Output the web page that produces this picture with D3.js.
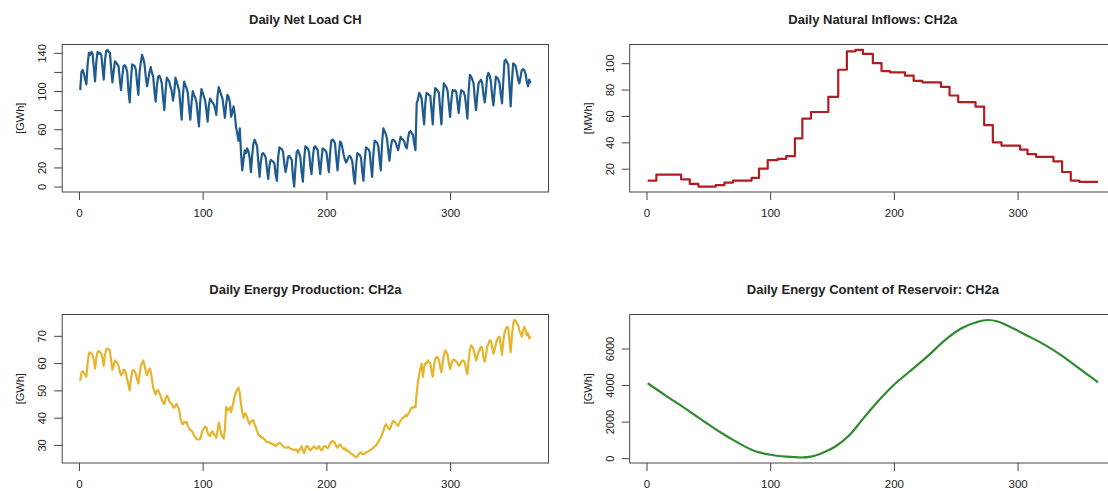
<!DOCTYPE html>
<html>
<head>
<meta charset="utf-8">
<script src="https://cdn.jsdelivr.net/npm/d3@7"></script>
<style>
  body { margin: 0; background: #fff; }
  svg text { font-family: "Liberation Sans", Arial, sans-serif; fill: #222; }
</style>
</head>
<body>
<svg id="chart"></svg>
<script>
// daily net load, GWh (day 1 .. 365)
const netLoad = [
  101, 120, 122, 118, 112, 107,
  128, 140, 138, 141, 139, 124, 110,
  130, 141, 139, 140, 138, 125, 112,
  132, 142, 143, 141, 140, 124, 109,
  120, 131, 130, 128, 126, 112, 101,
  115, 126, 127, 125, 120, 100, 88,
  112, 128, 127, 126, 122, 108, 96,
  120, 130, 138, 134, 128, 115, 105,
  112, 120, 125, 119, 115, 100, 89,
  105, 115, 116, 113, 108, 92, 80,
  100, 114, 112, 110, 104, 100, 90,
  98, 114, 110, 105, 100, 85, 70,
  95, 110, 106, 103, 98, 82, 70,
  88, 100, 96, 93, 88, 75, 63,
  88, 102, 98, 94, 90, 80, 68,
  85, 92, 90, 88, 86, 82, 75,
  95, 104, 100, 96, 92, 82, 72,
  86, 96, 94, 88, 73, 78, 84,
  75, 62, 55, 48, 61, 35, 17,
  28, 38, 35, 40, 37, 30, 15,
  32, 45, 49, 46, 42, 25, 10,
  26, 34, 35, 33, 30, 18, 8,
  22, 28, 27, 26, 24, 12, 6,
  30, 41, 40, 39, 36, 24, 15,
  22, 31, 32, 30, 28, 10, 0,
  20, 36, 38, 35, 30, 15, 5,
  28, 42, 41, 40, 36, 22, 13,
  30, 41, 42, 40, 38, 25, 13,
  28, 40, 39, 38, 36, 26, 15,
  35, 48, 49, 48, 45, 30, 17,
  32, 47, 46, 40, 33, 28, 25,
  28, 31, 32, 30, 26, 12, 3,
  22, 35, 34, 33, 30, 16, 6,
  28, 41, 40, 39, 36, 22, 10,
  34, 48, 47, 46, 42, 28, 17,
  45, 61, 58, 55, 50, 38, 27,
  40, 48, 49, 48, 46, 42, 38,
  45, 52, 50, 49, 47, 42, 40,
  50, 57, 58, 56, 54, 45, 38,
  87, 91, 98, 96, 92, 78, 65,
  88, 98, 97, 96, 95, 80, 65,
  90, 103, 102, 100, 98, 80, 65,
  92, 108, 106, 104, 100, 86, 73,
  90, 101, 100, 101, 99, 88, 77,
  92, 101, 100, 99, 95, 84, 71,
  100, 117, 115, 112, 108, 92, 80,
  95, 108, 110, 112, 108, 96, 88,
  100, 115, 119, 116, 110, 95, 85,
  100, 115, 114, 112, 108, 96, 87,
  110, 131, 133, 130, 128, 105, 84,
  110, 129, 128, 126, 120, 112, 108,
  115, 122, 123, 122, 118, 110, 105,
  112, 108
];

// natural inflows, MWh: day where a new level starts, and that level
const inflowDays = [1, 8, 28, 35, 42, 56, 63, 70, 85, 91, 98, 106, 113, 120, 126, 133, 147, 155, 162, 169, 175, 183, 190, 197, 209, 216, 223, 238, 245, 252, 266, 273, 280, 287, 302, 308, 315, 329, 336, 343, 350, 365];
const inflowLevels = [11, 15.5, 12, 8.5, 6.5, 7.5, 9.5, 11, 13, 20, 26.5, 27.5, 29.5, 43, 58, 63, 74.5, 95, 109, 110, 107, 100, 94, 93, 90.5, 86.5, 85.5, 82, 75.5, 70.5, 67, 53, 40, 37.5, 34.5, 31, 29, 25.5, 17.5, 11, 10, 10];

// daily energy production, GWh
const production = [
  53.5, 56.5, 57, 56.5, 55.5, 55,
  60, 63.5, 64, 63.5, 63, 61, 58,
  62, 64, 64.5, 64, 63.5, 62, 59,
  63, 65, 65.3, 65, 64.5, 61, 57.5,
  59, 61, 60.5, 60, 59, 57, 55.5,
  56, 57.5, 57.5, 56, 54, 52, 50,
  54, 57, 57.5, 57, 56, 54, 52.5,
  56, 59, 60, 61, 59, 57, 55.5,
  57, 58, 57, 54, 51, 49.5, 48.5,
  50, 50, 49, 48, 46.5, 45.5, 45,
  47, 48, 47.5, 46, 45.5, 45, 44,
  43.6, 44.5, 45, 44, 43, 40, 38,
  37.6, 38.5, 38.2, 38.5, 37, 36, 35.5,
  35.2, 34.5, 33.5, 33, 32.2, 32, 32,
  32.2, 34, 35.5, 36, 36.7, 36.5, 34.5,
  33.5, 33.3, 34.5, 35, 34, 33.5, 32.7,
  35, 38.2, 36.5, 34, 33, 32.3, 36,
  44, 42.6, 43, 43.8, 42, 44, 46,
  48, 49.5, 50.5, 51, 49, 45, 42,
  40, 41.5, 41.3, 40, 38.5, 37.6, 38.5,
  39, 39, 37.5, 36.4, 35, 34, 33.3,
  33, 32.7, 32.5, 32, 31.5, 31, 30.9,
  31, 30.5, 30.6, 30.2, 30, 29.5, 30,
  30.5, 30.8, 30.5, 30, 29.5, 29.2, 29,
  29, 29.3, 29, 28.6, 28.5, 28.3, 28,
  28.4, 28.2, 27.2, 28, 28.6, 29.5, 28,
  27, 28.5, 29.6, 29.5, 28.6, 28, 28.5,
  29, 29.5, 29, 28.5, 29, 29.6, 28.6,
  28, 28.5, 29.5, 29.6, 29.2, 28.8, 29.5,
  30.5, 31, 31.5, 31.2, 30.5, 29.5, 29,
  29.8, 30.2, 29.6, 29, 28.5, 28.8, 28,
  28, 27.6, 27.2, 26.8, 26.6, 26.2, 25.8,
  25.4, 25.8, 26.5, 27, 27.3, 26.8, 26.6,
  26.8, 27.2, 27.5, 27.6, 28, 28.3, 28.5,
  29, 29.5, 29.7, 30.5, 31, 32, 32.7,
  34, 35, 36.5, 37.6, 37, 36.2, 35.7,
  36.5, 38, 38.8, 38.5, 38, 37.5, 37,
  38, 39, 39.5, 40, 40.2, 41, 40.5,
  41.3, 42, 43, 43.8, 43.6, 44, 43.8,
  49, 53, 56, 58, 59.8, 55, 58.5,
  60, 59.8, 61, 60.5, 60, 57, 55,
  59, 61.5, 62.2, 62, 61, 58.5, 56.6,
  60, 63, 64.7, 64, 63, 60, 57.8,
  59.5, 61, 61.4, 61, 60.5, 60, 59,
  59.5, 60.5, 61, 60.8, 60, 57.5, 56,
  61, 65, 66.5, 66, 65, 63, 61,
  62.5, 64, 65, 66, 65.5, 62, 60.5,
  63, 66, 67, 68.4, 68, 66, 63.5,
  65, 67, 68.5, 69.5, 69.7, 66, 63,
  68, 71, 72.5, 73.3, 73, 68, 64,
  70, 74.5, 75.8, 75.5, 74.5, 74, 72,
  71, 69.7, 72, 73.3, 72, 70.2, 71,
  69, 70
];

// reservoir energy content, GWh (read at these days)
const reservoirDays = [1, 15, 30, 45, 60, 71, 88, 99, 113, 125, 133, 144, 153, 164, 175, 187, 199, 212, 226, 243, 254, 266, 276, 284, 295, 308, 322, 336, 350, 365];
const reservoirValues = [4100, 3450, 2780, 2080, 1400, 960, 380, 200, 80, 35, 80, 330, 650, 1250, 2150, 3100, 3950, 4700, 5500, 6550, 7080, 7420, 7560, 7480, 7150, 6700, 6200, 5600, 4900, 4150];

const xTicks = [0, 100, 200, 300];
const days = d3.range(1, 366);

const svg = d3.select("#chart").attr("width", 1108).attr("height", 491);
svg.append("rect").attr("width", 1108).attr("height", 491).attr("fill", "#fff");

// R-style axis range: data range plus 4% on each side
function rRange(ext) {
  var pad = (ext[1] - ext[0]) * 0.04;
  return [ext[0] - pad, ext[1] + pad];
}

function drawPanel(p) {
  const g = svg.append("g");
  const x = d3.scaleLinear().domain(rRange([1, 365])).range([p.left, p.right]);
  const y = d3.scaleLinear().domain(rRange(d3.extent(p.points, (d) => d[1]))).range([p.bottom, p.top]);

  // x axis
  g.append("g")
    .attr("transform", `translate(0, ${p.bottom})`)
    .call(d3.axisBottom(x).tickValues(xTicks).tickSize(8).tickSizeOuter(0).tickPadding(9))
    .call((a) => a.select(".domain").remove())
    .call((a) => a.selectAll("line").attr("stroke", "#444"))
    .call((a) => a.selectAll("text").attr("font-size", "11.5px").attr("fill", "#222"));

  // y axis, labels turned like R does
  g.append("g")
    .attr("transform", `translate(${p.left}, 0)`)
    .call(d3.axisLeft(y).tickValues(p.yTicks).tickSize(8).tickSizeOuter(0)
      .tickFormat((d) => (p.yLabels.indexOf(d) >= 0 ? d : "")))
    .call((a) => a.select(".domain").remove())
    .call((a) => a.selectAll("line").attr("stroke", "#444"))
    .call((a) => a.selectAll("text")
      .attr("x", null).attr("dy", null)
      .attr("text-anchor", "middle")
      .attr("transform", "translate(-16, 0) rotate(-90)")
      .attr("font-size", "11px").attr("fill", "#222"));

  // box
  g.append("rect")
    .attr("x", p.left).attr("y", p.top)
    .attr("width", p.right - p.left).attr("height", p.bottom - p.top)
    .attr("fill", "none").attr("stroke", "#444").attr("stroke-width", 1);

  // series
  const line = d3.line()
    .x((d) => x(d[0]))
    .y((d) => y(d[1]))
    .curve(p.curve || d3.curveLinear);
  g.append("path")
    .datum(p.points)
    .attr("d", line)
    .attr("fill", "none")
    .attr("stroke", p.color)
    .attr("stroke-width", 2.2)
    .attr("stroke-linejoin", "round");

  // title and y label
  g.append("text")
    .attr("x", (p.left + p.right) / 2)
    .attr("y", p.top - 21)
    .attr("text-anchor", "middle")
    .attr("font-size", "13px")
    .attr("font-weight", "bold")
    .attr("fill", "#111")
    .text(p.title);

  g.append("text")
    .attr("transform", `translate(${p.left - 38}, ${(p.top + p.bottom) / 2}) rotate(-90)`)
    .attr("text-anchor", "middle")
    .attr("font-size", "11px")
    .text(p.ylab);
}

drawPanel({
  title: "Daily Net Load CH", ylab: "[GWh]", color: "#1f5b8e",
  left: 62.2, right: 548.5, top: 44.5, bottom: 192,
  points: days.map((d, i) => [d, netLoad[i]]),
  yTicks: [0, 20, 40, 60, 80, 100, 120, 140], yLabels: [0, 20, 60, 100, 140]
});

drawPanel({
  title: "Daily Natural Inflows: CH2a", ylab: "[MWh]", color: "#b01e22",
  left: 629.7, right: 1116, top: 44.5, bottom: 192,
  points: inflowDays.map((d, i) => [d, inflowLevels[i]]),
  curve: d3.curveStepAfter,
  yTicks: [20, 40, 60, 80, 100], yLabels: [20, 40, 60, 80, 100]
});

drawPanel({
  title: "Daily Energy Production: CH2a", ylab: "[GWh]", color: "#e6b52e",
  left: 62.2, right: 548.5, top: 314.5, bottom: 463,
  points: days.map((d, i) => [d, production[i]]),
  yTicks: [30, 40, 50, 60, 70], yLabels: [30, 40, 50, 60, 70]
});

drawPanel({
  title: "Daily Energy Content of Reservoir: CH2a", ylab: "[GWh]", color: "#2f8a2f",
  left: 629.7, right: 1116, top: 314.5, bottom: 463,
  points: reservoirDays.map((d, i) => [d, reservoirValues[i]]),
  curve: d3.curveMonotoneX,
  yTicks: [0, 2000, 4000, 6000], yLabels: [0, 2000, 4000, 6000]
});
</script>
</body>
</html>
